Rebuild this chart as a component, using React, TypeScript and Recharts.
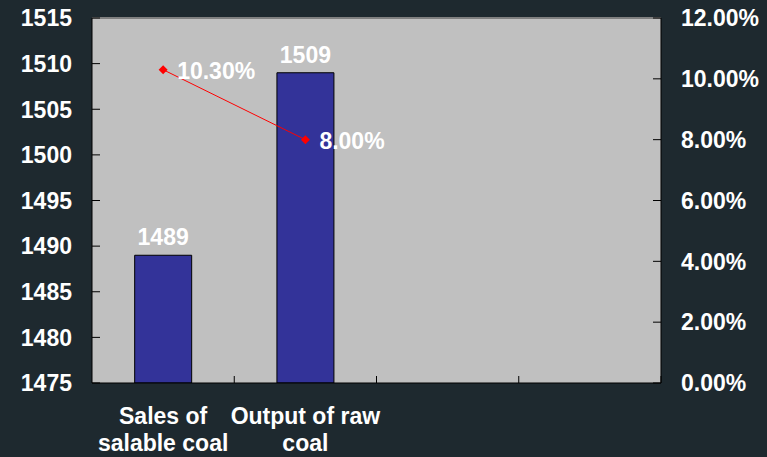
import { ComposedChart, Bar, Line, XAxis, YAxis, CartesianGrid, LabelList, ReferenceLine } from 'recharts';

// ── Data ────────────────────────────────────────────────────
const categories = ['Sales of salable coal', 'Output of raw coal', '', ''];
const categoryLines = [['Sales of', 'salable coal'], ['Output of raw', 'coal'], [], []];
const volumes = [1489, 1509, null, null];
const growth = [0.103, 0.08, null, null];
const leftTicks = [1475, 1480, 1485, 1490, 1495, 1500, 1505, 1510, 1515];
const rightTicks = [0, 0.02, 0.04, 0.06, 0.08, 0.1, 0.12];

const data = categories.map((name, i) => ({ name, volume: volumes[i], growth: growth[i] }));

// ── Styling ────────────────────────────────────────────────
const W = 767;
const H = 457;
const LEFT_W = 92;
const RIGHT_W = 106;
const BOTTOM_H = 74;
const BG = '#1e292f';
const FONT = "'Liberation Sans', Arial, sans-serif";
const TEXT = { fontFamily: FONT, fontSize: 23, fontWeight: 700, fill: '#ffffff' };
const BAND = (W - LEFT_W - RIGHT_W) / categories.length;
const GAP = 20;

const pct = (v: number) => `${(v * 100).toFixed(2)}%`;

function CategoryTick({ x, y, index }: any) {
  const lines = categoryLines[index] || [];
  const edge = x + BAND / 2;
  return (
    <g>
      <line x1={edge} x2={edge} y1={y - 7} y2={y} stroke="#000" strokeWidth={1} />
      {lines.map((l, i) => (
        <text key={i} x={x} y={y + 41 + i * 27} textAnchor="middle" {...TEXT}>{l}</text>
      ))}
    </g>
  );
}

function LeftTick({ x, y, payload }: any) {
  const axisX = x + GAP;
  return (
    <g>
      <line x1={axisX} x2={axisX + 8} y1={y} y2={y} stroke="#000" strokeWidth={1} />
      <text x={x} y={y} dy="0.36em" textAnchor="end" {...TEXT}>{payload.value}</text>
    </g>
  );
}

function RightTick({ x, y, payload }: any) {
  const axisX = x - GAP;
  return (
    <g>
      <line x1={axisX - 8} x2={axisX} y1={y} y2={y} stroke="#000" strokeWidth={1} />
      <text x={x} y={y} dy="0.36em" textAnchor="start" {...TEXT}>{pct(payload.value)}</text>
    </g>
  );
}

function Diamond({ cx, cy }: any) {
  if (cx == null || cy == null) return null;
  const r = 4.5;
  return <polygon points={`${cx},${cy - r} ${cx + r},${cy} ${cx},${cy + r} ${cx - r},${cy}`} fill="#ff0000" />;
}

function LineLabel({ x, y, value }: any) {
  if (value == null) return null;
  return <text x={x + 14} y={y + 9} {...TEXT}>{pct(value)}</text>;
}

export default function App() {
  return (
    <div style={{ position: 'fixed', left: 0, top: 0, width: W, height: H, background: BG }}>
      <ComposedChart width={W} height={H} data={data} margin={{ top: 18, right: 0, bottom: 0, left: 0 }} barCategoryGap="30%">
        <CartesianGrid fill="#c0c0c0" stroke="none" />
        <XAxis
          dataKey="name"
          tick={<CategoryTick />}
          tickLine={false}
          tickSize={0}
          tickMargin={0}
          axisLine={{ stroke: '#000' }}
          interval={0}
          height={BOTTOM_H}
        />
        <YAxis
          yAxisId="left"
          domain={[1475, 1515]}
          ticks={leftTicks}
          allowDataOverflow
          tick={<LeftTick />}
          tickLine={false}
          tickSize={0}
          tickMargin={GAP}
          axisLine={{ stroke: '#000' }}
          width={LEFT_W}
        />
        <YAxis
          yAxisId="right"
          orientation="right"
          domain={[0, 0.12]}
          ticks={rightTicks}
          tick={<RightTick />}
          tickLine={false}
          tickSize={0}
          tickMargin={GAP}
          axisLine={{ stroke: '#000' }}
          width={RIGHT_W}
        />
        <ReferenceLine yAxisId="left" y={1515} stroke="#808080" strokeWidth={2} />
        <Bar yAxisId="left" dataKey="volume" fill="#333399" stroke="#000" strokeWidth={1} isAnimationActive={false}>
          <LabelList dataKey="volume" position="top" offset={10} style={{ ...TEXT }} />
        </Bar>
        <Line
          yAxisId="right"
          dataKey="growth"
          stroke="#ff0000"
          strokeWidth={1}
          dot={<Diamond />}
          activeDot={false}
          isAnimationActive={false}
        >
          <LabelList dataKey="growth" content={<LineLabel />} />
        </Line>
      </ComposedChart>
    </div>
  );
}
